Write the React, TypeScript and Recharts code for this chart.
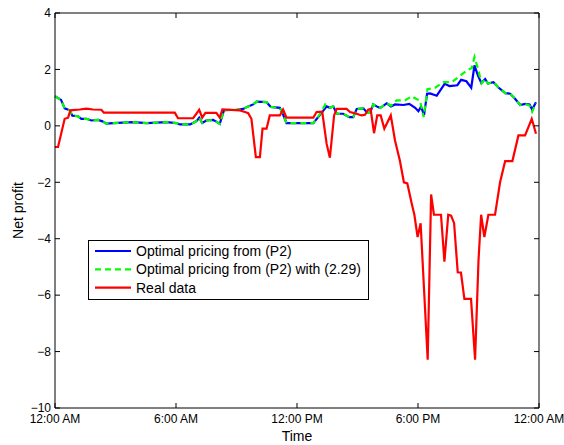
import React from 'react';
import { LineChart, Line, XAxis, YAxis, Legend } from 'recharts';

const FONT = '"Liberation Sans", Arial, Helvetica, sans-serif';

const hourTicks = [0, 6, 12, 18, 24];
const hourLabels = ['12:00 AM', '6:00 AM', '12:00 PM', '6:00 PM', '12:00 AM'];
const profitTicks = [-10, -8, -6, -4, -2, 0, 2, 4];

// [hour of day, net profit]
const optimalP2: [number, number][] = [
    [0, 1.05], [0.3, 0.92], [0.48, 0.62], [0.73, 0.55], [0.86, 0.36], [1.14, 0.34], [1.31, 0.25],
    [1.56, 0.25], [1.8, 0.19], [2.14, 0.21], [2.35, 0.16], [2.55, 0.08], [2.88, 0.1], [3.87, 0.13],
    [4.55, 0.1], [5.53, 0.13], [6.02, 0.1], [6.19, 0.05], [6.7, 0.05], [7.02, 0.17], [7.15, 0.29],
    [7.3, 0.1], [7.5, 0.19], [7.84, 0.21], [8.0, 0.15], [8.17, 0.07], [8.38, 0.56], [9.0, 0.57],
    [9.33, 0.6], [9.58, 0.69], [9.83, 0.76], [10.0, 0.86], [10.49, 0.84], [10.7, 0.67], [11.15, 0.64],
    [11.28, 0.45], [11.48, 0.1], [12.81, 0.1], [13.22, 0.46], [13.47, 0.69], [13.63, 0.64], [13.8, 0.69],
    [13.97, 0.43], [14.29, 0.43], [14.59, 0.31], [14.79, 0.31], [14.96, 0.6], [15.29, 0.62], [15.49, 0.46],
    [15.62, 0.46], [15.78, 0.76], [15.95, 0.69], [16.12, 0.63], [16.45, 0.8], [16.66, 0.69], [16.86, 0.76],
    [17.27, 0.74], [17.57, 0.78], [17.86, 0.64], [18.02, 0.52], [18.15, 0.68], [18.3, 0.38], [18.45, 1.14],
    [18.6, 1.15], [18.93, 1.07], [19.32, 1.49], [19.56, 1.41], [19.95, 1.44], [20.14, 1.63], [20.4, 1.58],
    [20.64, 1.35], [20.8, 2.14], [20.97, 1.79], [21.14, 1.52], [21.33, 1.66], [21.47, 1.5], [21.74, 1.55],
    [21.99, 1.36], [22.33, 1.16], [22.57, 1.14], [22.8, 0.97], [23.07, 0.74], [23.31, 0.78], [23.53, 0.76],
    [23.66, 0.58], [23.85, 0.84],
];

const optimalP2With229: [number, number][] = [
    [0, 1.05], [0.3, 0.92], [0.48, 0.62], [0.73, 0.55], [0.86, 0.36], [1.14, 0.34], [1.31, 0.25],
    [1.56, 0.25], [1.8, 0.19], [2.14, 0.21], [2.35, 0.16], [2.55, 0.08], [2.88, 0.1], [3.87, 0.13],
    [4.55, 0.1], [5.53, 0.13], [6.02, 0.1], [6.19, 0.05], [6.7, 0.05], [7.02, 0.17], [7.15, 0.29],
    [7.3, 0.1], [7.5, 0.19], [7.84, 0.21], [8.0, 0.15], [8.17, 0.07], [8.38, 0.56], [9.0, 0.57],
    [9.33, 0.6], [9.58, 0.69], [9.83, 0.76], [10.0, 0.86], [10.49, 0.84], [10.7, 0.67], [11.15, 0.64],
    [11.28, 0.45], [11.48, 0.1], [12.81, 0.1], [13.22, 0.5], [13.4, 0.76], [13.63, 0.64], [13.8, 0.69],
    [13.97, 0.43], [14.29, 0.43], [14.59, 0.31], [14.79, 0.31], [14.96, 0.6], [15.29, 0.62], [15.49, 0.46],
    [15.62, 0.46], [15.78, 0.76], [15.95, 0.69], [16.12, 0.63], [16.45, 0.8], [16.66, 0.72], [16.94, 0.9],
    [17.35, 0.9], [17.69, 1.05], [17.9, 0.96], [18.1, 0.9], [18.28, 0.31], [18.47, 1.3], [18.85, 1.35],
    [19.26, 1.55], [19.68, 1.55], [20.09, 1.78], [20.42, 1.96], [20.67, 2.05], [20.8, 2.44], [20.95, 2.08],
    [21.16, 1.51], [21.33, 1.66], [21.47, 1.5], [21.74, 1.55], [21.99, 1.36], [22.33, 1.16], [22.57, 1.14],
    [22.8, 0.97], [23.07, 0.74], [23.31, 0.78], [23.53, 0.72], [23.66, 0.5], [23.85, 0.8],
];

const realData: [number, number][] = [
    [0, -0.75], [0.15, -0.75], [0.48, 0.25], [0.65, 0.29], [0.76, 0.55], [1.22, 0.58], [1.56, 0.61],
    [1.89, 0.58], [2.3, 0.57], [2.42, 0.47], [5.94, 0.47], [6.1, 0.27], [6.85, 0.27], [7.15, 0.57],
    [7.3, 0.29], [7.46, 0.46], [8.0, 0.46], [8.17, 0.29], [8.3, 0.58], [9.17, 0.55], [9.42, 0.49],
    [9.58, 0.45], [9.74, 0.25], [9.96, -1.11], [10.16, -1.11], [10.29, -0.1], [10.49, -0.1], [10.65, 0.37],
    [11.15, 0.37], [11.31, 0.58], [11.48, 0.29], [12.81, 0.29], [12.97, 0.49], [13.25, 0.5], [13.47, -0.64],
    [13.63, -1.13], [13.84, 0.37], [13.97, 0.6], [14.46, 0.6], [14.63, 0.49], [14.96, 0.43], [15.2, 0.37],
    [15.37, 0.39], [15.53, 0.57], [15.65, 0.6], [15.82, -0.26], [15.98, 0.37], [16.15, 0.37], [16.33, -0.1],
    [16.65, 0.37], [16.86, -0.52], [17.1, -1.23], [17.3, -2.0], [17.47, -2.04], [17.69, -2.76], [17.82, -3.15],
    [17.98, -3.94], [18.13, -3.45], [18.48, -8.29], [18.65, -2.43], [18.79, -3.15], [19.14, -3.15], [19.31, -4.81],
    [19.5, -3.15], [19.64, -3.18], [19.79, -3.45], [19.97, -5.19], [20.13, -5.2], [20.3, -6.13], [20.63, -6.13],
    [20.83, -8.29], [21.0, -4.77], [21.13, -3.15], [21.29, -3.94], [21.49, -3.15], [21.82, -3.15], [22.07, -2.0],
    [22.32, -1.25], [22.68, -1.25], [22.98, -0.34], [23.31, -0.34], [23.64, 0.25], [23.85, -0.28],
];

const toPoints = (rows: [number, number][]) => rows.map(([t, v]) => ({ t, v }));

const series = [
    { name: 'Optimal pricing from (P2)', color: '#0000ff', dash: undefined, rows: optimalP2 },
    { name: 'Optimal pricing from (P2) with (2.29)', color: '#00ff00', dash: '6 4', rows: optimalP2With229 },
    { name: 'Real data', color: '#ff0000', dash: undefined, rows: realData },
];

const formatHour = (h: number) => hourLabels[hourTicks.indexOf(h)] ?? '';
const formatProfit = (v: number) => (v < 0 ? `\u2212${Math.abs(v)}` : `${v}`);
const noLabel = () => '';

// boxed legend in the lower left of the plot
function LegendBox() {
    return (
        <svg width={281} height={60} style={{ display: 'block' }}>
            <rect x={0.5} y={0.5} width={280} height={59} fill="#fff" stroke="#000" />
            {series.map((s, i) => {
                const y = 11 + i * 18.3;
                return (
                    <g key={s.name}>
                        <line x1={7} x2={43} y1={y} y2={y} stroke={s.color} strokeWidth={2.2} strokeDasharray={s.dash} />
                        <text x={48} y={y} dy="0.36em" fontSize={14} fontFamily={FONT} fill="#000">
                            {s.name}
                        </text>
                    </g>
                );
            })}
        </svg>
    );
}

const tickStyle = { fontSize: 12, fontFamily: FONT, fill: '#000' };
const axisLine = { stroke: '#000', strokeWidth: 1 };

export default function App() {
    return (
        <div style={{ position: 'absolute', left: 0, top: 0, background: '#fff' }}>
            <LineChart width={564} height={445} margin={{ top: 2, right: 14, left: 0, bottom: 0 }}>
                <XAxis
                    dataKey="t"
                    type="number"
                    domain={[0, 24]}
                    ticks={hourTicks}
                    tickFormatter={formatHour}
                    height={37}
                    tickSize={-5}
                    tickMargin={11}
                    tick={tickStyle}
                    axisLine={axisLine}
                    tickLine={axisLine}
                    interval={0}
                    label={{ value: 'Time', position: 'insideBottom', offset: 4, style: { fontSize: 14, fontFamily: FONT, fill: '#000' } }}
                />
                {/* mirrored axes close the box on the top and right */}
                <XAxis
                    xAxisId="top"
                    orientation="top"
                    dataKey="t"
                    type="number"
                    domain={[0, 24]}
                    ticks={hourTicks}
                    tickFormatter={noLabel}
                    height={11}
                    tickSize={-5}
                    axisLine={axisLine}
                    tickLine={axisLine}
                    interval={0}
                />
                <YAxis
                    type="number"
                    domain={[-10, 4]}
                    ticks={profitTicks}
                    tickFormatter={formatProfit}
                    width={55}
                    tickSize={-5}
                    tickMargin={9}
                    tick={tickStyle}
                    axisLine={axisLine}
                    tickLine={axisLine}
                    interval={0}
                    label={{
                        value: 'Net profit',
                        angle: -90,
                        position: 'insideLeft',
                        offset: 18,
                        style: { textAnchor: 'middle', fontSize: 14, fontFamily: FONT, fill: '#000' },
                    }}
                />
                <YAxis
                    yAxisId="right"
                    orientation="right"
                    type="number"
                    domain={[-10, 4]}
                    ticks={profitTicks}
                    tickFormatter={noLabel}
                    width={11}
                    tickSize={-5}
                    axisLine={axisLine}
                    tickLine={axisLine}
                    interval={0}
                />
                <Legend
                    layout="vertical"
                    align="center"
                    verticalAlign="middle"
                    width={281}
                    height={60}
                    wrapperStyle={{ left: 88, top: 240, width: 281, height: 60 }}
                    content={() => <LegendBox />}
                />
                {series.map((s) => (
                    <Line
                        key={s.name}
                        name={s.name}
                        data={toPoints(s.rows)}
                        dataKey="v"
                        type="linear"
                        stroke={s.color}
                        strokeWidth={2.2}
                        strokeDasharray={s.dash}
                        dot={false}
                        activeDot={false}
                        isAnimationActive={false}
                    />
                ))}
                {/* invisible copy on the mirrored axes so they get a scale */}
                <Line
                    xAxisId="top"
                    yAxisId="right"
                    data={toPoints(realData)}
                    dataKey="v"
                    stroke="none"
                    dot={false}
                    activeDot={false}
                    legendType="none"
                    isAnimationActive={false}
                />
            </LineChart>
        </div>
    );
}
